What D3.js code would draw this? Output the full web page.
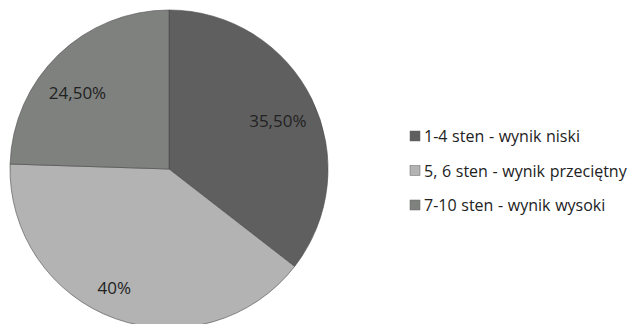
<!DOCTYPE html>
<html>
<head>
<meta charset="utf-8">
<script src="https://cdn.jsdelivr.net/npm/d3@7"></script>
<style>
  html, body { margin: 0; padding: 0; background: #fff; }
  svg { display: block; }
</style>
</head>
<body>
<svg id="chart" width="634" height="324"></svg>
<script>
const categories = ["1-4 sten - wynik niski", "5, 6 sten - wynik przeciętny", "7-10 sten - wynik wysoki"];
const values = [35.5, 40, 24.5];
const valueLabels = ["35,50%", "40%", "24,50%"];
const colors = ["#5f5f5f", "#b3b3b3", "#7f817f"];

const svg = d3.select("#chart");
const cx = 169, cy = 169, r = 159;
const font = "'Open Sans', sans-serif";

const pie = d3.pie().sort(null).value(d => d)(values);
const arc = d3.arc().innerRadius(0).outerRadius(r);

// best-fit style label placement (radius fraction and angular nudge per slice)
const labelFit = [{k: 0.75, da: 2}, {k: 0.82, da: 5}, {k: 0.75, da: -6}];
function labelPos(d, i) {
  const f = labelFit[i];
  const a = (d.startAngle + d.endAngle) / 2 + f.da * Math.PI / 180;
  const rr = r * f.k;
  return [Math.sin(a) * rr, -Math.cos(a) * rr];
}

const g = svg.append("g").attr("transform", `translate(${cx},${cy})`);
g.selectAll("path").data(pie).join("path")
  .attr("d", arc)
  .attr("fill", (d, i) => colors[i])
  .attr("stroke", "#4a4a4a")
  .attr("stroke-width", 0.6);

g.selectAll("text").data(pie).join("text")
  .attr("transform", (d, i) => `translate(${labelPos(d, i)})`)
  .attr("text-anchor", "middle")
  .attr("dominant-baseline", "central")
  .attr("font-family", font)
  .attr("font-size", 17)
  .attr("fill", "#222")
  .text((d, i) => valueLabels[i]);

const legend = svg.append("g").attr("transform", "translate(410,131)");
const rows = legend.selectAll("g").data(categories).join("g")
  .attr("transform", (d, i) => `translate(0,${i * 34.5})`);
rows.append("rect")
  .attr("width", 10).attr("height", 10)
  .attr("fill", (d, i) => colors[i])
  .attr("stroke", "#666").attr("stroke-width", 0.5);
rows.append("text")
  .attr("x", 14).attr("y", 11)
  .attr("font-family", font)
  .attr("font-size", 16)
  .attr("word-spacing", 0.5)
  .attr("fill", "#222")
  .text(d => d);
</script>
</body>
</html>
